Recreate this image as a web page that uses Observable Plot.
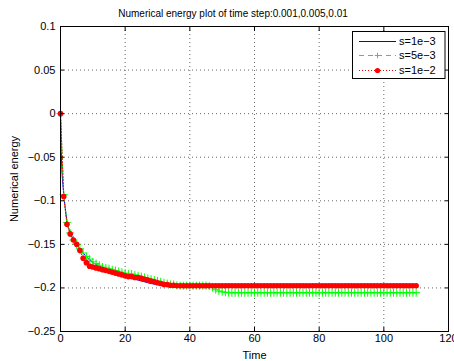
<!DOCTYPE html>
<html><head><meta charset="utf-8">
<script src="https://cdn.jsdelivr.net/npm/d3@7"></script>
<script src="https://cdn.jsdelivr.net/npm/@observablehq/plot@0.6"></script>
<style>
body{margin:0;background:#fff;font-family:"Liberation Sans",Arial,sans-serif;}
#wrap{position:relative;width:454px;height:361px;overflow:hidden;}
#title{position:absolute;top:7px;left:12px;width:442px;text-align:center;font-size:10px;line-height:14px;color:#000;}
</style></head><body>
<div id="wrap"><div id="title">Numerical energy plot of time step:0.001,0.005,0.01</div></div>
<script>
const xTicks = [0, 20, 40, 60, 80, 100, 120];
const yTicks = [-0.25, -0.2, -0.15, -0.1, -0.05, 0, 0.05, 0.1];
const xGrid = [20, 40, 60, 80, 100];
const yGrid = [-0.2, -0.15, -0.1, -0.05, 0, 0.05];
const seriesNames = ["s=1e\u22123", "s=5e\u22123", "s=1e\u22122"];

// s=1e-3 (line only)
const blueTime = [0, 0.25, 0.5, 1, 2, 3, 4, 5, 6, 7, 8, 9, 10, 12, 14, 16, 18, 20, 22, 24, 26, 28, 30, 32, 34, 36, 40, 50, 60, 70, 80, 90, 100, 110];
const blueEnergy = [0, -0.045, -0.07, -0.093, -0.125, -0.137, -0.145, -0.150, -0.155, -0.160, -0.164, -0.168, -0.171, -0.175, -0.178, -0.181, -0.184, -0.187, -0.189, -0.191, -0.193, -0.195, -0.196, -0.197, -0.1975, -0.1975, -0.1975, -0.1975, -0.1975, -0.1975, -0.1975, -0.1975, -0.1975, -0.1975];

// s=5e-3 and s=1e-2, sampled at every time unit
const stepTime = [
  0, 1, 2, 3, 4, 5, 6, 7, 8, 9,
  10, 11, 12, 13, 14, 15, 16, 17, 18, 19,
  20, 21, 22, 23, 24, 25, 26, 27, 28, 29,
  30, 31, 32, 33, 34, 35, 36, 37, 38, 39,
  40, 41, 42, 43, 44, 45, 46, 47, 48, 49,
  50, 51, 52, 53, 54, 55, 56, 57, 58, 59,
  60, 61, 62, 63, 64, 65, 66, 67, 68, 69,
  70, 71, 72, 73, 74, 75, 76, 77, 78, 79,
  80, 81, 82, 83, 84, 85, 86, 87, 88, 89,
  90, 91, 92, 93, 94, 95, 96, 97, 98, 99,
  100, 101, 102, 103, 104, 105, 106, 107, 108, 109,
  110];
const greenEnergy = [
  0, -0.093, -0.125, -0.137, -0.145, -0.150, -0.155, -0.160, -0.164, -0.167,
  -0.170, -0.172, -0.174, -0.176, -0.177, -0.178, -0.179, -0.180, -0.181, -0.182,
  -0.183, -0.184, -0.184, -0.185, -0.186, -0.187, -0.188, -0.189, -0.190, -0.191,
  -0.192, -0.193, -0.194, -0.195, -0.196, -0.196, -0.197, -0.1975, -0.1975, -0.1975,
  -0.1975, -0.1975, -0.1975, -0.1975, -0.1975, -0.1975, -0.198, -0.1995, -0.202, -0.2035,
  -0.2045, -0.205, -0.2055, -0.2055, -0.2055, -0.2055, -0.2055, -0.2055, -0.2055, -0.2055,
  -0.2055, -0.2055, -0.2055, -0.2055, -0.2055, -0.2055, -0.2055, -0.2055, -0.2055, -0.2055,
  -0.2055, -0.2055, -0.2055, -0.2055, -0.2055, -0.2055, -0.2055, -0.2055, -0.2055, -0.2055,
  -0.2055, -0.2055, -0.2055, -0.2055, -0.2055, -0.2055, -0.2055, -0.2055, -0.2055, -0.2055,
  -0.2055, -0.2055, -0.2055, -0.2055, -0.2055, -0.2055, -0.2055, -0.2055, -0.2055, -0.2055,
  -0.2055, -0.2055, -0.2055, -0.2055, -0.2055, -0.2055, -0.2055, -0.2055, -0.2055, -0.2055,
  -0.2055];
const redEnergy = [
  0, -0.095, -0.127, -0.138, -0.145, -0.150, -0.157, -0.166, -0.171, -0.175,
  -0.176, -0.177, -0.178, -0.179, -0.180, -0.181, -0.182, -0.183, -0.184, -0.185,
  -0.186, -0.187, -0.187, -0.188, -0.188, -0.189, -0.190, -0.191, -0.192, -0.193,
  -0.194, -0.195, -0.196, -0.196, -0.197, -0.197, -0.1975, -0.1975, -0.1975, -0.1975,
  -0.1975, -0.1975, -0.1975, -0.1975, -0.1975, -0.1975, -0.1975, -0.1975, -0.1975, -0.1975,
  -0.1975, -0.1975, -0.1975, -0.1975, -0.1975, -0.1975, -0.1975, -0.1975, -0.1975, -0.1975,
  -0.1975, -0.1975, -0.1975, -0.1975, -0.1975, -0.1975, -0.1975, -0.1975, -0.1975, -0.1975,
  -0.1975, -0.1975, -0.1975, -0.1975, -0.1975, -0.1975, -0.1975, -0.1975, -0.1975, -0.1975,
  -0.1975, -0.1975, -0.1975, -0.1975, -0.1975, -0.1975, -0.1975, -0.1975, -0.1975, -0.1975,
  -0.1975, -0.1975, -0.1975, -0.1975, -0.1975, -0.1975, -0.1975, -0.1975, -0.1975, -0.1975,
  -0.1975, -0.1975, -0.1975, -0.1975, -0.1975, -0.1975, -0.1975, -0.1975, -0.1975, -0.1975,
  -0.1975];

const blue = blueTime.map((t, i) => ({t, e: blueEnergy[i]}));
const green = stepTime.map((t, i) => ({t, e: greenEnergy[i]}));
const red = stepTime.map((t, i) => ({t, e: redEnergy[i]}));

const colors = ["#0000ff", "#00ff00", "#ff0000"];
const fmtY = d => (Math.abs(d) < 1e-9 ? "0" : String(+d.toFixed(2)).replace("-", "\u2212"));
const gridStyle = {stroke: "#000", strokeOpacity: 0.6, strokeDasharray: "1,3", strokeWidth: 1};

const chart = Plot.plot({
  width: 454, height: 361,
  marginLeft: 60, marginRight: 6, marginTop: 26, marginBottom: 30,
  style: {fontFamily: "'Liberation Sans', Arial, sans-serif", fontSize: "11px", background: "transparent", color: "#000"},
  x: {domain: [0, 120]},
  y: {domain: [-0.25, 0.1]},
  marks: [
    Plot.gridX(xGrid, gridStyle),
    Plot.gridY(yGrid, gridStyle),
    Plot.line(blue, {x: "t", y: "e", stroke: colors[0], strokeWidth: 1}),
    Plot.line(green, {x: "t", y: "e", stroke: colors[1], strokeWidth: 1, strokeDasharray: "4,3"}),
    Plot.dot(green, {x: "t", y: "e", symbol: "plus", r: 2.7, stroke: colors[1], strokeWidth: 1}),
    Plot.line(red, {x: "t", y: "e", stroke: colors[2], strokeWidth: 1, strokeDasharray: "1,2"}),
    Plot.dot(red, {x: "t", y: "e", r: 2.8, fill: colors[2], stroke: "none"}),
    Plot.axisX(xTicks, {anchor: "bottom", tickSize: 0, tickPadding: 3, label: "Time", labelAnchor: "center", labelArrow: "none", labelOffset: 27}),
    Plot.axisX(xTicks, {anchor: "bottom", tickSize: -4, fill: "none", label: null}),
    Plot.axisX(xTicks, {anchor: "top", tickSize: -4, fill: "none", label: null}),
    Plot.axisY(yTicks, {anchor: "left", tickSize: 0, tickPadding: 5, tickFormat: fmtY, label: "Numerical energy", labelAnchor: "center", labelArrow: "none", labelOffset: 50}),
    Plot.axisY(yTicks, {anchor: "left", tickSize: -4, fill: "none", label: null}),
    Plot.axisY(yTicks, {anchor: "right", tickSize: -4, fill: "none", label: null}),
    Plot.frame({stroke: "#000", strokeWidth: 1})
  ]
});
document.getElementById("wrap").prepend(chart);

// legend box (inside the axes, top right)
const svg = d3.select(chart);
const lg = svg.append("g").attr("font-family", "'Liberation Sans', Arial, sans-serif").attr("font-size", "11px").attr("text-anchor", "start");
lg.append("rect").attr("x", 352.5).attr("y", 31.5).attr("width", 92.5).attr("height", 47)
  .attr("fill", "#fff").attr("stroke", "#000").attr("stroke-width", 1);
const rowY = [41.5, 55.5, 70.5];
const dashes = [null, "5,4", "1,2"];
seriesNames.forEach((name, i) => {
  const y = rowY[i];
  const ln = lg.append("line").attr("x1", 359).attr("x2", 396).attr("y1", y).attr("y2", y)
    .style("stroke", colors[i]).attr("stroke-width", 1);
  if (dashes[i]) ln.attr("stroke-dasharray", dashes[i]);
  if (i === 1) {
    lg.append("path").attr("d", `M${377.5 - 2.7},${y}h5.4M377.5,${y - 2.7}v5.4`).style("stroke", colors[1]).attr("stroke-width", 1).attr("fill", "none");
  }
  if (i === 2) {
    lg.append("circle").attr("cx", 377.5).attr("cy", y).attr("r", 2.6).style("fill", colors[2]);
  }
  lg.append("text").attr("x", 399).attr("y", y).attr("dy", "0.35em").attr("fill", "#000").attr("text-anchor", "start").text(name);
});
</script>
</body></html>
